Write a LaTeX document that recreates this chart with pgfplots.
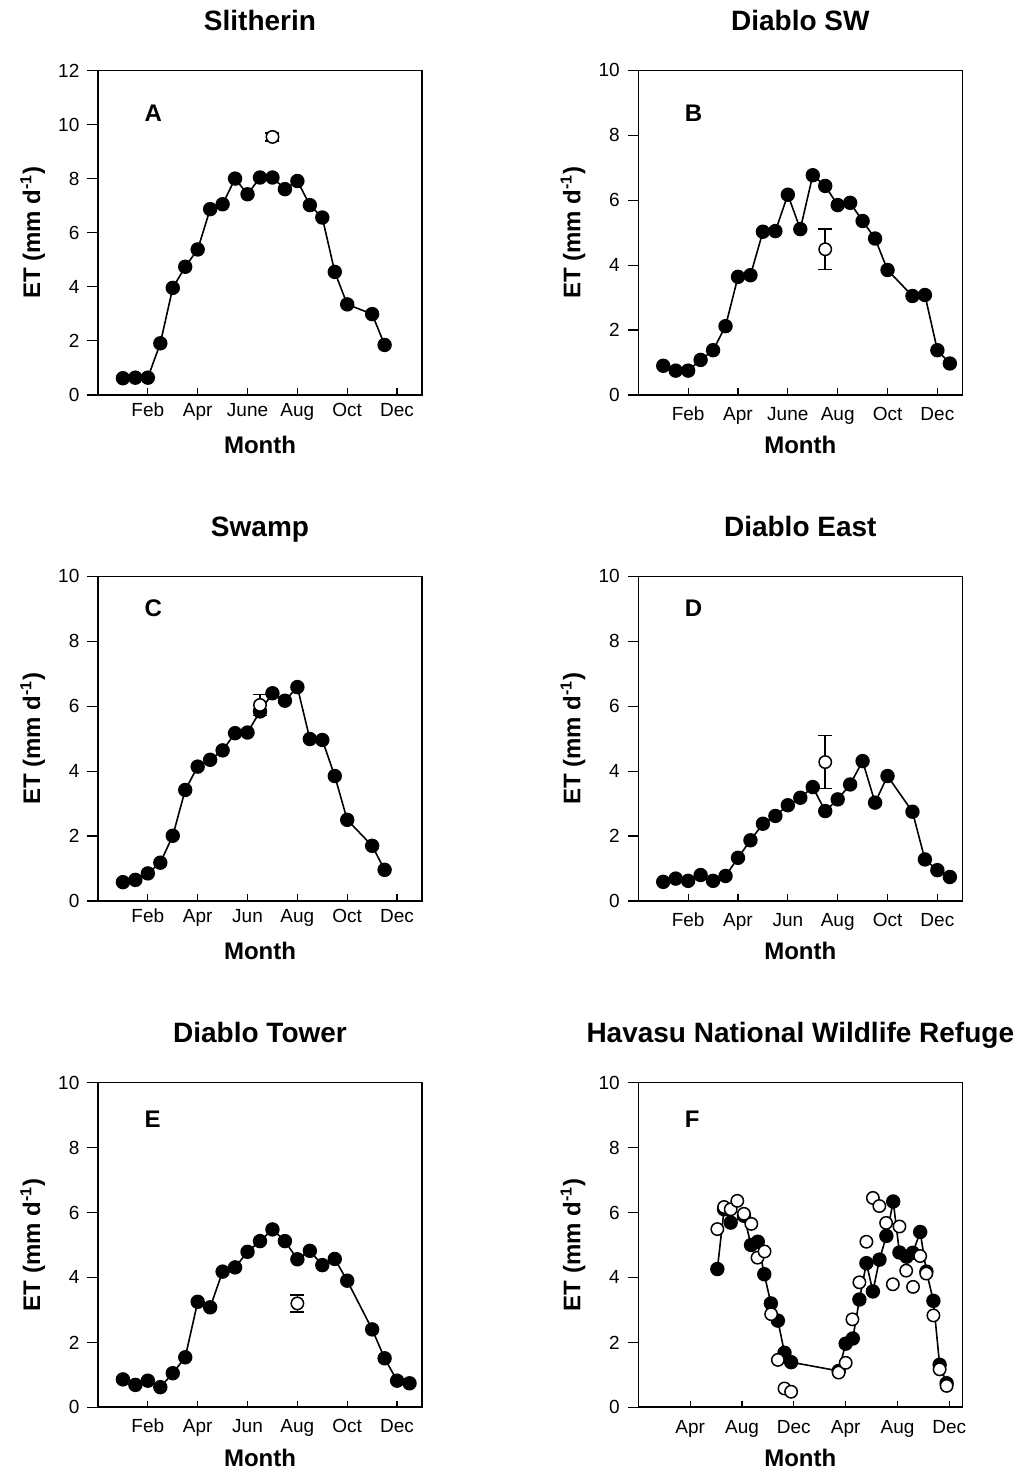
\documentclass[border=0pt]{standalone}
\usepackage{fontspec}
\setmainfont{Liberation Sans}
\usepackage{pgfplots}
\pgfplotsset{compat=1.18}

\pgfplotsset{
  etpanel/.style={
    scale only axis, width=162pt, height=162.3pt, anchor=south west,
    xmin=0, xmax=13, ymin=0, ymax=10,
    xtick={2,4,6,8,10,12}, ytick={0,2,4,6,8,10},
    axis line style={line width=0.8pt},
    tick align=inside, major tick length=3.3pt, tick pos=left,
    tick style={black, line width=0.6pt},
    ytick style={/pgfplots/major tick length=5.3pt, xshift=-5.3pt},
    ticklabel style={font=\fontsize{9.5}{11}\selectfont},
    xticklabel style={text height=7pt, text depth=2pt},
    yticklabel style={xshift=-5.8pt},
    /pgf/number format/assume math mode=true,
    title style={font=\bfseries\fontsize{14}{16}\selectfont, at={(0.5,1)}, anchor=base, yshift=14pt},
    xlabel={Month}, ylabel={ET (mm d\textsuperscript{-1})},
    label style={font=\bfseries\fontsize{12}{14}\selectfont},
    xlabel style={at={(axis description cs:0.5,0)}, anchor=base, yshift=-29.5pt},
    ylabel style={at={(axis description cs:-0.179,0.5)}, anchor=base},
  },
  filled/.style={black, line width=0.8pt, mark=*, mark size=3.2pt, mark options={solid, fill=black}},
  openpt/.style={only marks, mark=*, mark size=3.1pt, mark options={fill=white, draw=black, line width=0.75pt},
    error bars/.cd, y dir=both, y explicit,
    error bar style={black, line width=0.75pt},
    error mark options={rotate=90, mark size=3.5pt, line width=0.75pt, black}},
}
\tikzset{letter/.style={anchor=base west, font=\bfseries\fontsize{12}{14}\selectfont}}

\begin{document}
\begin{tikzpicture}
\path[use as bounding box] (0,0) rectangle (512pt,738.5pt);

% A
\begin{axis}[etpanel, at={(49pt,541pt)}, title={Slitherin}, ymax=12, ytick={0,2,4,6,8,10,12},
  xticklabels={Feb,Apr,June,Aug,Oct,Dec}]
\addplot[filled] coordinates {
(1,0.62) (1.5,0.64) (2,0.64) (2.5,1.91) (3,3.96) (3.5,4.74) (4,5.38) (4.5,6.87)
(5,7.05) (5.5,8.00) (6,7.42) (6.5,8.04) (7,8.04) (7.5,7.61) (8,7.91) (8.5,7.02)
(9,6.56) (9.5,4.55) (10,3.35) (11,2.99) (11.5,1.85)};
\addplot[openpt] coordinates {(7,9.54) +- (0,0.15)};
\node[letter] at (axis description cs:0.122,0.841) {A};
\end{axis}

% B
\begin{axis}[etpanel, at={(319.15pt,541pt)}, title={Diablo SW},
  xticklabels={Feb,Apr,June,Aug,Oct,Dec}, xticklabel style={yshift=-2.4pt}]
\addplot[filled] coordinates {
(1,0.90) (1.5,0.75) (2,0.75) (2.5,1.08) (3,1.38) (3.5,2.12) (4,3.64) (4.5,3.69)
(5,5.03) (5.5,5.05) (6,6.17) (6.5,5.11) (7,6.77) (7.5,6.44) (8,5.85) (8.5,5.92)
(9,5.36) (9.5,4.82) (10,3.85) (11,3.05) (11.5,3.08) (12,1.38) (12.5,0.97)};
\addplot[openpt] coordinates {(7.5,4.49) +- (0,0.63)};
\node[letter] at (axis description cs:0.122,0.841) {B};
\end{axis}

% C
\begin{axis}[etpanel, at={(49pt,288pt)}, title={Swamp},
  xticklabels={Feb,Apr,Jun,Aug,Oct,Dec}]
\addplot[filled] coordinates {
(1,0.58) (1.5,0.65) (2,0.85) (2.5,1.18) (3,2.01) (3.5,3.42) (4,4.14) (4.5,4.35)
(5,4.64) (5.5,5.17) (6,5.19) (6.5,5.84) (7,6.40) (7.5,6.17) (8,6.59) (8.5,4.99)
(9,4.96) (9.5,3.85) (10,2.50) (11,1.70) (11.5,0.96)};
\addplot[openpt] coordinates {(6.5,6.04) +- (0,0.32)};
\node[letter] at (axis description cs:0.122,0.877) {C};
\end{axis}

% D
\begin{axis}[etpanel, at={(319.15pt,288pt)}, title={Diablo East},
  xticklabels={Feb,Apr,Jun,Aug,Oct,Dec}, xticklabel style={yshift=-2.4pt}]
\addplot[filled] coordinates {
(1,0.59) (1.5,0.69) (2,0.62) (2.5,0.80) (3,0.62) (3.5,0.77) (4,1.33) (4.5,1.87)
(5,2.38) (5.5,2.62) (6,2.95) (6.5,3.18) (7,3.51) (7.5,2.77) (8,3.13) (8.5,3.59)
(9,4.31) (9.5,3.03) (10,3.85) (11,2.75) (11.5,1.28) (12,0.95) (12.5,0.74)};
\addplot[openpt] coordinates {(7.5,4.28) +- (0,0.82)};
\node[letter] at (axis description cs:0.122,0.877) {D};
\end{axis}

% E
\begin{axis}[etpanel, at={(49pt,34.85pt)}, title={Diablo Tower},
  xticklabels={Feb,Apr,Jun,Aug,Oct,Dec}, xticklabel style={yshift=-1.9pt}]
\addplot[filled] coordinates {
(1,0.86) (1.5,0.69) (2,0.82) (2.5,0.62) (3,1.05) (3.5,1.54) (4,3.25) (4.5,3.08)
(5,4.18) (5.5,4.31) (6,4.79) (6.5,5.12) (7,5.48) (7.5,5.12) (8,4.56) (8.5,4.82)
(9,4.38) (9.5,4.57) (10,3.90) (11,2.40) (11.5,1.51) (12,0.82) (12.5,0.74)};
\addplot[openpt] coordinates {(8,3.20) +- (0,0.26)};
\node[letter] at (axis description cs:0.122,0.863) {E};
\end{axis}

% F
\begin{axis}[etpanel, at={(319.15pt,34.85pt)}, title={Havasu National Wildlife Refuge},
  xmin=0, xmax=25, xtick={4,8,12,16,20,24},
  xticklabels={Apr,Aug,Dec,Apr,Aug,Dec}, xticklabel style={yshift=-2.4pt}]
\addplot[filled] coordinates {
(6.10,4.26) (6.62,6.10) (7.13,5.69) (8.15,5.90) (8.70,5.00) (9.22,5.10) (9.72,4.10)
(10.23,3.20) (10.77,2.67) (11.28,1.68) (11.79,1.39) (15.46,1.12) (16.0,1.96)
(16.55,2.12) (17.06,3.32) (17.6,4.44) (18.1,3.57) (18.61,4.55) (19.14,5.28)
(19.67,6.34) (20.15,4.77) (20.7,4.64) (21.18,4.76) (21.75,5.40) (22.23,4.18)
(22.77,3.28) (23.25,1.31) (23.79,0.74)};
\addplot[only marks, mark=*, mark size=3.1pt, mark options={fill=white, draw=black, line width=0.75pt}] coordinates {
(6.10,5.49) (6.62,6.17) (7.13,6.10) (7.64,6.36) (8.15,5.96) (8.72,5.65) (9.2,4.61)
(9.74,4.80) (10.25,2.87) (10.77,1.46) (11.28,0.58) (11.79,0.48) (15.46,1.07)
(16.0,1.37) (16.52,2.71) (17.06,3.85) (17.6,5.10) (18.1,6.45) (18.6,6.20)
(19.12,5.68) (19.64,3.79) (20.15,5.57) (20.67,4.21) (21.2,3.71) (21.75,4.66)
(22.22,4.12) (22.77,2.83) (23.25,1.17) (23.79,0.66)};
\node[letter] at (axis description cs:0.122,0.863) {F};
\end{axis}
\end{tikzpicture}
\end{document}
